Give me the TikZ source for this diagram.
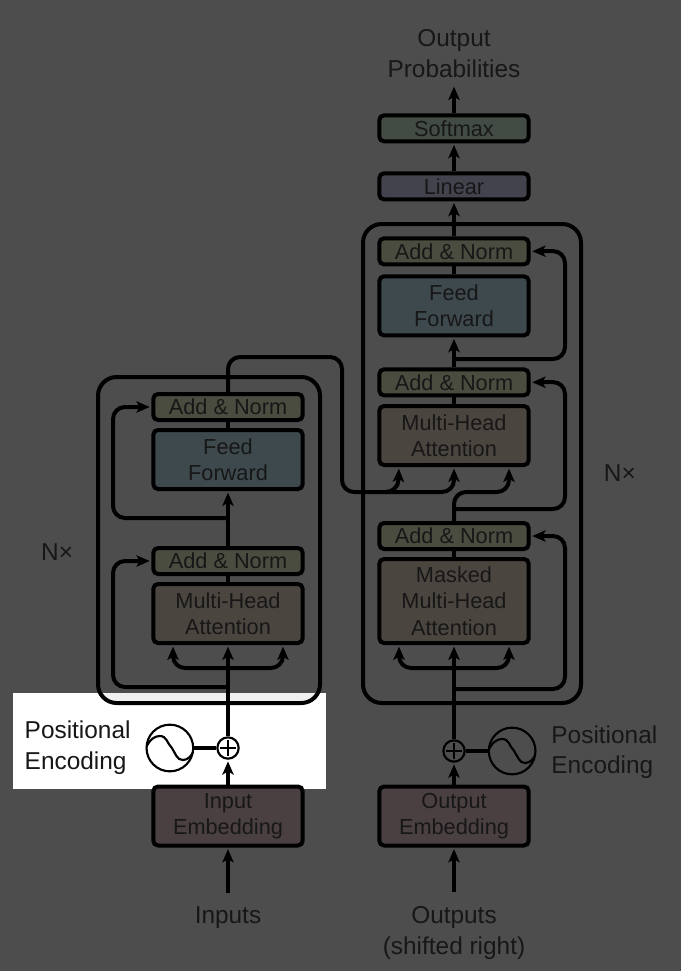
\documentclass[tikz,border=0pt]{standalone}
\usepackage{fontspec}
\setmainfont{Liberation Sans}
\usetikzlibrary{arrows.meta,positioning}

\definecolor{pagegray}{HTML}{4D4D4D}
\definecolor{bandgray}{HTML}{F0F0F0}
\definecolor{inkgray}{HTML}{171717}
\definecolor{softmaxfill}{HTML}{424C44}
\definecolor{linearfill}{HTML}{42434C}
\definecolor{normfill}{HTML}{4A4C40}
\definecolor{feedfill}{HTML}{3E494E}
\definecolor{attnfill}{HTML}{4B453F}
\definecolor{embedfill}{HTML}{4A4041}

\begin{document}
\begin{tikzpicture}[
    x=0.75pt, y=-0.75pt,
    layer/.style={rectangle, draw=black, line width=3pt, rounded corners=3.5pt, minimum width=112pt, inner sep=0pt, text=inkgray, align=center, font=\fontsize{16.3}{19.7}\selectfont},
    thinblock/.style={layer, minimum height=19.5pt},
    tallblock/.style={layer, minimum height=44.25pt},
    norm/.style={thinblock, fill=normfill},
    feed/.style={tallblock, fill=feedfill},
    attn/.style={tallblock, fill=attnfill},
    embed/.style={tallblock, fill=embedfill},
    frame/.style={rectangle, draw=black, line width=3pt, rounded corners=14pt, inner sep=0pt},
    outer/.style={text=inkgray, align=center, inner sep=2pt, font=\fontsize{18.3}{23}\selectfont},
    plus/.style={circle, draw=black, line width=1.6pt, minimum size=16pt, inner sep=0pt},
    sinewave/.style={circle, draw=black, line width=1.6pt, minimum size=35pt, inner sep=0pt,
        path picture={\draw[line width=1.6pt, shift={(path picture bounding box.center)}]
            (-24,0) .. controls (-20,-9) and (-15,-12) .. (-10,-12)
            .. controls (-3,-12) and (-3,-5) .. (2,0)
            .. controls (6,6) and (7,12) .. (13,12)
            .. controls (18,12) and (22,8) .. (24,2);}},
    arrow/.style={-{Stealth[length=10pt,width=8.5pt,inset=2.5pt]}, line width=3pt, shorten >=1.2pt, rounded corners=9pt},
    wire/.style={line width=3pt, rounded corners=9pt},
    cross/.style={line width=1.6pt, shorten <=2.8pt, shorten >=2.8pt}
]

% Page and highlighted band
\fill[pagegray] (0,0) rectangle (681,971);
\fill[white] (13,693) rectangle (326,789);
\begin{scope}
    \clip (13,693) rectangle (326,789);
    \fill[bandgray, rounded corners=14pt] (98,377) rectangle (320,702);
\end{scope}

% Encoder
\node[embed] (inembed) at (228,816) {Input\\Embedding};
\node[outer, below=42.5pt of inembed] (inputs) {Inputs};
\node[plus, fill=white] (plusL) at (228,748) {};
\node[sinewave, left=16.5pt of plusL] (sineL) {};
\node[outer, left=9pt of sineL, align=left] (posL) {Positional\\Encoding};
\node[attn] (attnL) at (228,613.5) {Multi-Head\\Attention};
\node[norm, above=4.5pt of attnL] (normL1) {Add \& Norm};
\node[feed, above=41.25pt of normL1] (feedL) {Feed\\Forward};
\node[norm, above=4.5pt of feedL] (normL2) {Add \& Norm};
\node[frame, minimum width=166.5pt, minimum height=244.5pt] (frameL) at (209,540) {};
\node[outer, left=15pt of frameL, yshift=-9pt] (nxL) {N×};

% Decoder
\node[embed] (outembed) at (454,816) {Output\\Embedding};
\node[outer, below=42pt of outembed] (outputs) {Outputs\\(shifted right)};
\node[plus] (plusR) at (454,751) {};
\node[sinewave, right=16.5pt of plusR] (sineR) {};
\node[outer, right=9pt of sineR, align=left, yshift=-1pt] (posR) {Positional\\Encoding};
\node[layer, minimum height=63pt, fill=attnfill] (maskR) at (454,601) {Masked\\Multi-Head\\Attention};
\node[norm, above=4.5pt of maskR] (normR1) {Add \& Norm};
\node[attn, above=40.5pt of normR1] (attnR) {Multi-Head\\Attention};
\node[norm, above=5pt of attnR] (normR2) {Add \& Norm};
\node[feed, above=22.5pt of normR2] (feedR) {Feed\\Forward};
\node[norm, above=6pt of feedR] (normR3) {Add \& Norm};
\node[thinblock, fill=linearfill, above=26.25pt of normR3] (linear) {Linear};
\node[thinblock, fill=softmaxfill, above=21pt of linear] (softmax) {Softmax};
\node[outer, above=24.5pt of softmax] (probs) {Output\\Probabilities};
\node[frame, minimum width=163.5pt, minimum height=359.25pt] (frameR) at (472,463.5) {};
\node[outer, right=13.5pt of frameR, yshift=-7pt] (nxR) {N×};

% Junctions
\coordinate (resL1) at (228,687);
\coordinate (resL2) at (228,518);
\coordinate (splitL) at (228,668);
\coordinate (resR1) at (454,689);
\coordinate (splitR) at (454,668);
\coordinate (resR2) at (454,509);
\coordinate (resR3) at (454,359);
\coordinate (crossR) at (385,492);

% Encoder arrows
\draw[arrow, shorten <=8.5pt] (inputs.north) -- (inembed);
\draw[arrow] (inembed) -- (plusL);
\draw[cross] (plusL.north) -- (plusL.south);
\draw[cross] (plusL.west) -- (plusL.east);
\draw[wire] (sineL) -- (plusL);
\draw[arrow] (plusL) -- (attnL);
\draw[arrow] (splitL) -| ([xshift=-41.25pt]attnL.south);
\draw[arrow] (splitL) -| ([xshift=41.25pt]attnL.south);
\draw[arrow] (resL1) -- (113,687) -- (113,561) -- (normL1.west);
\draw[wire] (attnL) -- (normL1);
\draw[arrow] (normL1) -- (feedL);
\draw[arrow] (resL2) -- (113,518) -- (113,407) -- (normL2.west);
\draw[wire] (feedL) -- (normL2);

% Decoder arrows
\draw[arrow, shorten <=8.5pt] (outputs.north) -- (outembed);
\draw[arrow] (outembed) -- (plusR);
\draw[cross] (plusR.north) -- (plusR.south);
\draw[cross] (plusR.west) -- (plusR.east);
\draw[wire] (sineR) -- (plusR);
\draw[arrow] (plusR) -- (maskR);
\draw[arrow] (splitR) -| ([xshift=-41.25pt]maskR.south);
\draw[arrow] (splitR) -| ([xshift=41.25pt]maskR.south);
\draw[arrow] (resR1) -- (565,689) -- (565,536) -- (normR1.east);
\draw[wire] (maskR) -- (normR1);
\draw[arrow] (normR1.north) -- (454,492) -- (509,492) -- ([xshift=41.25pt]attnR.south);
\draw[arrow] (normL2.north) -- (228,357) -- (342,357) -- (342,492) -- (398,492) -- ([xshift=-41.25pt]attnR.south);
\draw[arrow] (crossR) -| (attnR.south);
\draw[arrow] (resR2) -- (565,509) -- (565,382) -- (normR2.east);
\draw[wire] (attnR) -- (normR2);
\draw[arrow] (normR2) -- (feedR);
\draw[arrow] (resR3) -- (565,359) -- (565,251) -- (normR3.east);
\draw[wire] (feedR) -- (normR3);
\draw[arrow] (normR3) -- (linear);
\draw[arrow] (linear) -- (softmax);
\draw[arrow, shorten >=4.5pt] (softmax) -- (probs);

\end{tikzpicture}
\end{document}
